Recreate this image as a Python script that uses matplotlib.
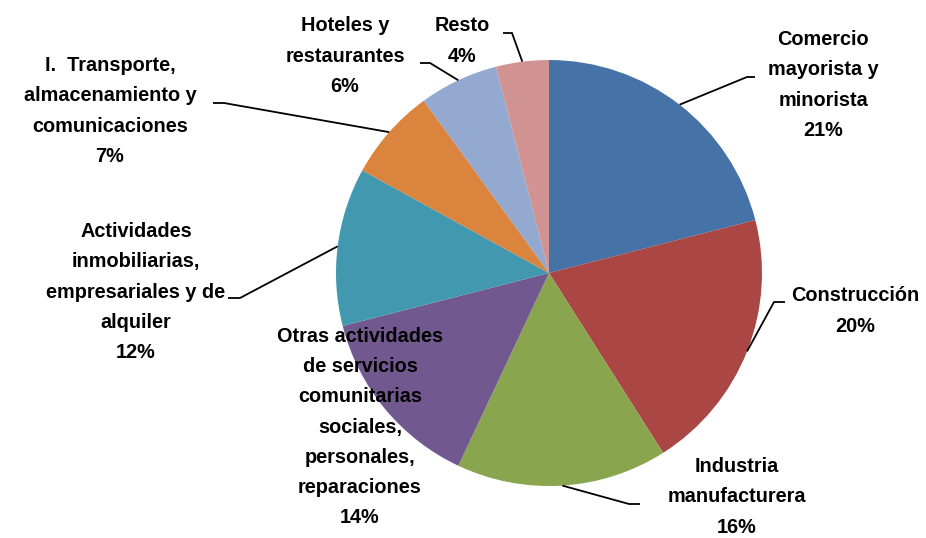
import numpy as np
import matplotlib
matplotlib.use("Agg")
import matplotlib.pyplot as plt
from matplotlib import font_manager

categories = [
    "Comercio\nmayorista y\nminorista",
    "Construcción",
    "Industria\nmanufacturera",
    "Otras actividades\nde servicios\ncomunitarias\nsociales,\npersonales,\nreparaciones",
    "Actividades\ninmobiliarias,\nempresariales y de\nalquiler",
    "I.  Transporte,\nalmacenamiento y\ncomunicaciones",
    "Hoteles y\nrestaurantes",
    "Resto",
]
values = [21, 20, 16, 14, 12, 7, 6, 4]
colors = ["#4572A7", "#AA4643", "#89A54E", "#71588F",
          "#4198AF", "#DB843D", "#93A9CF", "#D19392"]

# layout (pixel coordinates, top-left origin)
W, H = 926, 538
center_px = (549, 273)
radius = 213
label_pos = [(823, 85), (855, 311), (737, 497), (360, 427),
             (136, 292), (110, 111), (345, 56), (462, 41)]
# elbow points of leader lines (start near text -> elbow)
leader = [
    [(755, 77), (747, 77)],
    [(785, 302), (774, 302)],
    [(640, 504), (629, 504)],
    None,
    [(228, 298), (240, 298)],
    [(213, 103), (224, 103)],
    [(420, 63), (430, 63)],
    [(503, 33), (512, 33)],
]

names = [f.name for f in font_manager.fontManager.ttflist]
fam = ["Liberation Sans Narrow", "DejaVu Sans"] if "Liberation Sans Narrow" in names else ["Liberation Sans", "DejaVu Sans"]

fig = plt.figure(figsize=(W / 100, H / 100), dpi=100)
ax = fig.add_axes([0, 0, 1, 1])

cx, cy = center_px[0], H - center_px[1]
wedges, _ = ax.pie(values, colors=colors, startangle=90, counterclock=False,
                   center=(cx, cy), radius=radius, frame=True,
                   wedgeprops=dict(linewidth=0))
ax.set_xlim(0, W)
ax.set_ylim(0, H)
ax.set_aspect("equal")
ax.axis("off")

total = sum(values)
for i, (cat, v, w) in enumerate(zip(categories, values, wedges)):
    pct = f"{round(100 * v / total)}%"
    lx, ly = label_pos[i]
    ax.text(lx, H - ly, cat + "\n" + pct, ha="center", va="center",
            fontsize=14.3, fontweight="bold", family=fam, linespacing=1.74,
            color="black", zorder=5)
    if leader[i] is not None:
        mid = np.deg2rad((w.theta1 + w.theta2) / 2)
        ex = cx + radius * np.cos(mid)
        ey = cy + radius * np.sin(mid)
        (x0, y0), (x1, y1) = leader[i]
        ax.plot([x0, x1, ex], [H - y0, H - y1, ey], color="black", lw=1.3,
                zorder=4, solid_capstyle="butt")

fig.savefig("out.png", dpi=100)
